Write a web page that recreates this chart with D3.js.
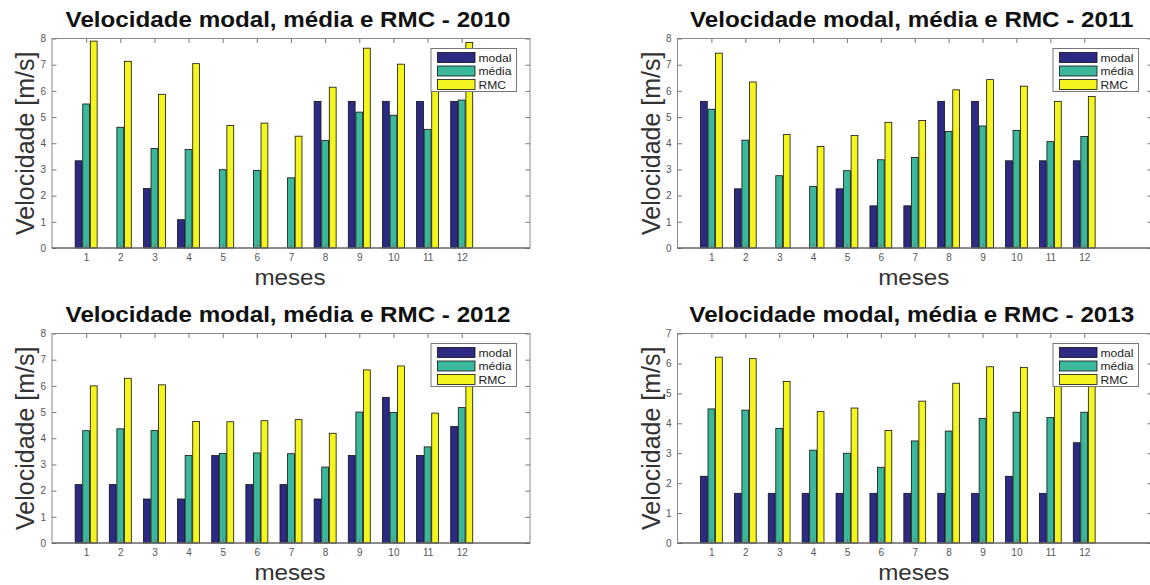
<!DOCTYPE html>
<html>
<head>
<meta charset="utf-8">
<script src="https://cdn.jsdelivr.net/npm/d3@7"></script>
<style>
  html, body { margin: 0; padding: 0; background: #fff; }
  svg { display: block; font-family: "Liberation Sans", Arial, Helvetica, sans-serif; }
</style>
</head>
<body>
<svg id="fig" width="1150" height="585"></svg>
<script>
// Monthly wind speeds (m/s): modal, mean (média) and RMC per year
const months = [1, 2, 3, 4, 5, 6, 7, 8, 9, 10, 11, 12];
const seriesNames = ["modal", "média", "RMC"];
const seriesColors = ["#2c2a82", "#3bb89b", "#f4f41e"];

const modal2010 = [3.33, 0, 2.27, 1.08, 0, 0, 0, 5.60, 5.60, 5.60, 5.60, 5.60];
const media2010 = [5.50, 4.61, 3.80, 3.76, 2.99, 2.96, 2.68, 4.11, 5.19, 5.07, 4.53, 5.65];
const rmc2010   = [7.90, 7.13, 5.87, 7.04, 4.68, 4.77, 4.27, 6.14, 7.63, 7.02, 6.80, 7.85];

const modal2011 = [5.60, 2.26, 0, 0, 2.26, 1.61, 1.61, 5.60, 5.60, 3.33, 3.33, 3.33];
const media2011 = [5.30, 4.12, 2.76, 2.35, 2.95, 3.37, 3.46, 4.45, 4.66, 4.49, 4.06, 4.26];
const rmc2011   = [7.44, 6.34, 4.33, 3.88, 4.30, 4.80, 4.87, 6.04, 6.43, 6.18, 5.60, 5.79];

const modal2012 = [2.23, 2.23, 1.68, 1.68, 3.34, 2.23, 2.23, 1.68, 3.34, 5.56, 3.34, 4.45];
const media2012 = [4.29, 4.36, 4.29, 3.34, 3.42, 3.44, 3.41, 2.90, 5.00, 4.98, 3.67, 5.17];
const rmc2012   = [6.00, 6.29, 6.04, 4.64, 4.63, 4.67, 4.71, 4.19, 6.61, 6.76, 4.96, 6.30];

const modal2013 = [2.23, 1.66, 1.66, 1.66, 1.66, 1.66, 1.66, 1.66, 1.66, 2.23, 1.66, 3.35];
const media2013 = [4.48, 4.44, 3.83, 3.10, 3.00, 2.53, 3.41, 3.74, 4.16, 4.37, 4.19, 4.37];
const rmc2013   = [6.21, 6.16, 5.40, 4.39, 4.51, 3.76, 4.74, 5.34, 5.89, 5.87, 5.60, 5.50];

const yTop = [8, 8, 8, 7];
const years = [2010, 2011, 2012, 2013];

const panels = [
  { year: years[0], series: [modal2010, media2010, rmc2010], yMax: yTop[0], x0: 52,    x1: 530,  y0: 38.5,  y1: 248 },
  { year: years[1], series: [modal2011, media2011, rmc2011], yMax: yTop[1], x0: 677.5, x1: 1152, y0: 38.5,  y1: 248 },
  { year: years[2], series: [modal2012, media2012, rmc2012], yMax: yTop[2], x0: 52,    x1: 530,  y0: 333.5, y1: 543 },
  { year: years[3], series: [modal2013, media2013, rmc2013], yMax: yTop[3], x0: 677.5, x1: 1152, y0: 333.5, y1: 543 }
];

const svg = d3.select("#fig");
const STRETCH = 1.1;          // text in the figure is slightly wide
const groupOffset = 0.222;    // spacing between bars inside a month group
const barWidth = 0.2;
const tickLen = 4.5;

function wideText(g, x, y, str) {
  return g.append("text")
    .attr("transform", `translate(${x},${y}) scale(${STRETCH},1)`)
    .attr("text-anchor", "middle")
    .text(str);
}

panels.forEach(p => {
  const g = svg.append("g");
  const x = d3.scaleLinear().domain([0, 14]).range([p.x0, p.x1]);
  const y = d3.scaleLinear().domain([0, p.yMax]).range([p.y1, p.y0]);

  // white plot background
  g.append("rect")
    .attr("x", p.x0).attr("y", p.y0)
    .attr("width", p.x1 - p.x0).attr("height", p.y1 - p.y0)
    .attr("fill", "#fff");

  // bars
  p.series.forEach((vals, si) => {
    g.append("g").selectAll("rect")
      .data(vals.map((v, i) => ({ m: months[i], v })))
      .join("rect")
      .attr("x", d => x(d.m + (si - 1) * groupOffset - barWidth / 2))
      .attr("width", x(barWidth) - x(0))
      .attr("y", d => y(d.v))
      .attr("height", d => y(0) - y(d.v))
      .attr("fill", seriesColors[si])
      .attr("stroke", d => d.v > 0 ? "#111" : "none")
      .attr("stroke-width", 0.8);
  });

  // axes with inward ticks on all four sides
  const tickColor = "#777";
  const bottom = g.append("g").attr("transform", `translate(0,${p.y1})`)
    .call(d3.axisBottom(x).tickValues(months).tickSizeInner(-tickLen).tickSizeOuter(0).tickPadding(6));
  const top = g.append("g").attr("transform", `translate(0,${p.y0})`)
    .call(d3.axisTop(x).tickValues(months).tickSizeInner(-tickLen).tickSizeOuter(0).tickFormat(""));
  const left = g.append("g").attr("transform", `translate(${p.x0},0)`)
    .call(d3.axisLeft(y).ticks(p.yMax).tickSizeInner(-tickLen).tickSizeOuter(0).tickPadding(6));
  const right = g.append("g").attr("transform", `translate(${p.x1},0)`)
    .call(d3.axisRight(y).ticks(p.yMax).tickSizeInner(-tickLen).tickSizeOuter(0).tickFormat(""));
  [bottom, top, left, right].forEach(a => {
    a.select(".domain").remove();
    a.selectAll(".tick line").attr("stroke", tickColor);
    a.selectAll(".tick text").attr("fill", "#555").attr("font-size", 10)
      .attr("font-family", "Liberation Sans, Arial, sans-serif");
  });

  // axes box
  g.append("rect")
    .attr("x", p.x0).attr("y", p.y0)
    .attr("width", p.x1 - p.x0).attr("height", p.y1 - p.y0)
    .attr("fill", "none").attr("stroke", "#888").attr("stroke-width", 1);
  g.append("line")
    .attr("x1", p.x0).attr("x2", p.x1).attr("y1", p.y1).attr("y2", p.y1)
    .attr("stroke", "#555").attr("stroke-width", 1.2);

  // title
  wideText(g, (p.x0 + p.x1) / 2 - 3, p.y0 - 11.5, `Velocidade modal, média e RMC - ${p.year}`)
    .attr("font-size", 22).attr("font-weight", "bold").attr("fill", "#111");

  // x label
  wideText(g, (p.x0 + p.x1) / 2 - 1, p.y1 + 37, "meses")
    .attr("font-size", 22).attr("fill", "#333");

  // y label
  g.append("text")
    .attr("transform", `translate(${p.x0 - 18},${(p.y0 + p.y1) / 2}) rotate(-90)`)
    .attr("text-anchor", "middle")
    .attr("font-size", 25).attr("fill", "#333")
    .text("Velocidade [m/s]");

  // legend
  const lx = p.x1 - 99, ly = p.y0 + 10;
  const leg = g.append("g").attr("transform", `translate(${lx},${ly})`);
  leg.append("rect").attr("width", 85.5).attr("height", 43)
    .attr("fill", "#fff").attr("stroke", "#777").attr("stroke-width", 1);
  seriesNames.forEach((name, i) => {
    const cy = 9 + i * 13.5;
    leg.append("rect")
      .attr("x", 6.5).attr("y", cy - 5).attr("width", 37.5).attr("height", 10)
      .attr("fill", seriesColors[i]).attr("stroke", "#111").attr("stroke-width", 0.8);
    leg.append("text")
      .attr("transform", `translate(47.5,${cy + 4}) scale(${STRETCH},1)`)
      .attr("font-size", 11).attr("fill", "#222")
      .text(name);
  });
});
</script>
</body>
</html>
